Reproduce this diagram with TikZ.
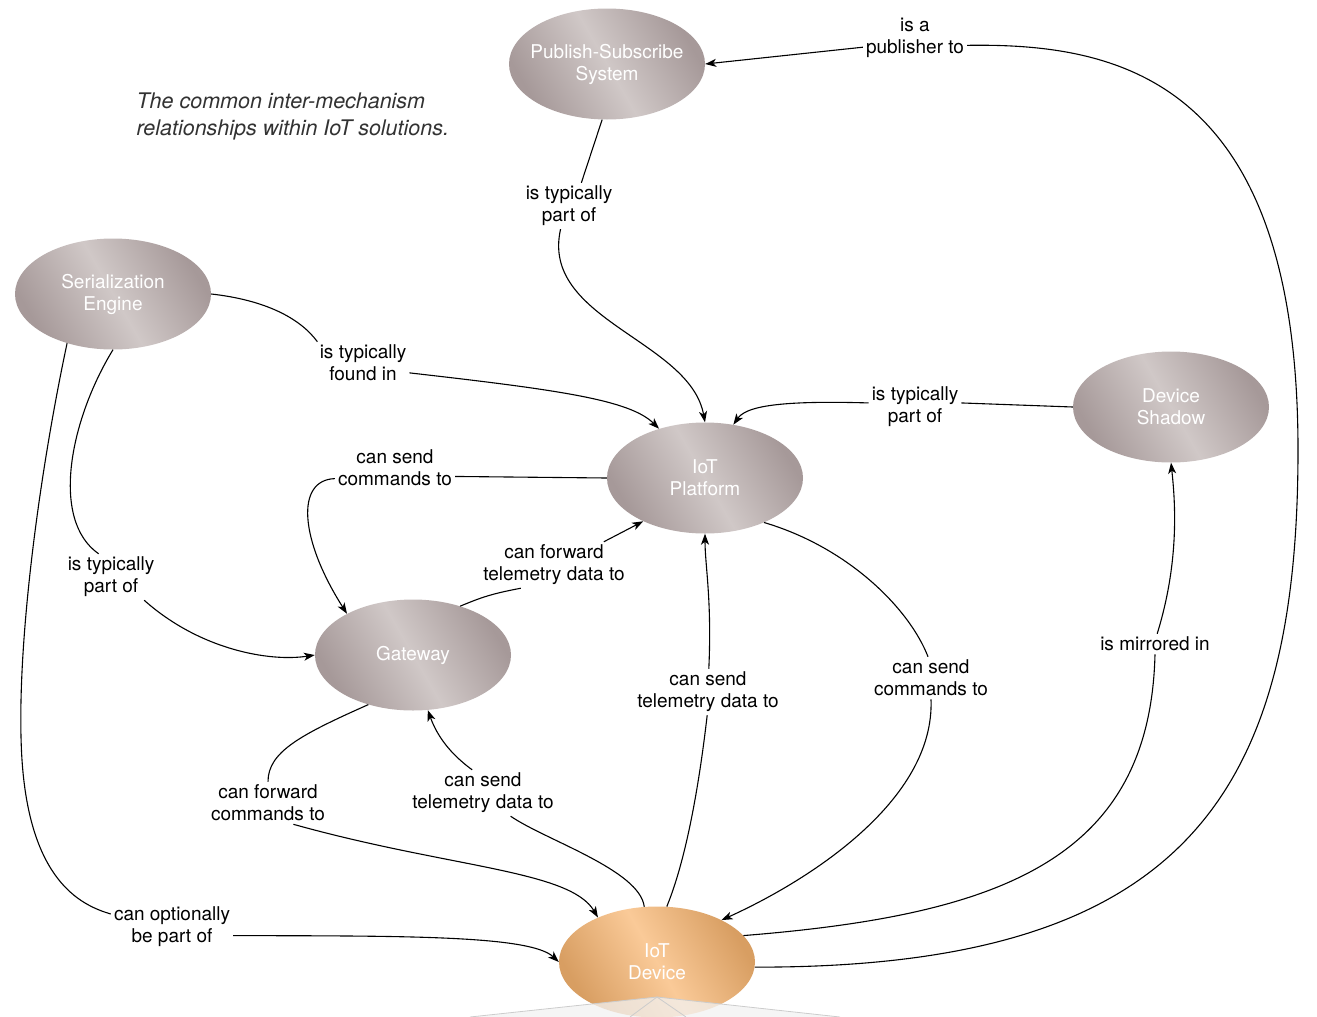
\documentclass[tikz,border=0pt]{standalone}
\usepackage{fontspec}
\setmainfont{TeX Gyre Heros}
\usetikzlibrary{shapes.geometric,arrows.meta}
\definecolor{mechgrey}{RGB}{166,153,153}
\definecolor{mechlight}{RGB}{208,200,199}
\definecolor{devorange}{RGB}{216,158,98}
\definecolor{devlight}{RGB}{250,202,152}
\definecolor{capgrey}{RGB}{50,50,50}
\tikzset{
	mech/.style={ellipse, minimum width=196pt, minimum height=111pt, inner xsep=-30pt, inner ysep=0pt, align=center,
		text=white, font=\fontsize{19}{22}\selectfont,
		left color=mechgrey, right color=mechgrey, middle color=mechlight, shading angle=120},
	devmech/.style={mech, left color=devorange, right color=devorange, middle color=devlight, shading angle=120},
	rel/.style={align=center, inner sep=3pt, font=\fontsize{19}{22}\selectfont},
	link/.style={line width=1.1pt},
	linkto/.style={line width=1.1pt, -{Stealth[length=11pt,width=8pt,inset=3pt]}}
}

\begin{document}
\begin{tikzpicture}[x=1pt, y=-1pt]
			%%%%% START %%%%%
			
			\useasboundingbox (0, 0) rectangle (1317, 1017);
			
			\node[mech] (pubsub) at (607, 64) {Publish-Subscribe\\System};
			\node[mech] (serial) at (113, 294) {Serialization\\Engine};
			\node[mech] (platform) at (705, 478) {IoT\\Platform};
			\node[mech] (shadow) at (1171, 407) {Device\\Shadow};
			\node[mech] (gateway) at (413, 655) {Gateway};
			\node[devmech] (device) at (657, 962) {IoT\\Device};
			
			\fill[gray!10, fill opacity=0.75] (657, 997) -- (840, 1017) -- (470, 1017) -- cycle;
			\draw[gray!40, line width=0.8pt] (470, 1017) -- (657, 997) -- (840, 1017);
			\draw[gray!40, line width=0.8pt] (630, 1017) -- (657, 997) -- (686, 1017);
			
			\node[align=left, font=\fontsize{21.5}{27}\selectfont\itshape, text=capgrey, anchor=north west] (caption) at (133, 89) {The common inter-mechanism\\relationships within IoT solutions.};
			
			\node[rel] (publ) at (915, 38) {is a\\publisher to};
			\node[rel] (pspart) at (569, 206) {is typically\\part of};
			\node[rel] (found) at (363, 363) {is typically\\found in};
			\node[rel] (shpart) at (915, 407) {is typically\\part of};
			\node[rel] (pfcmd) at (395, 468) {can send\\commands to};
			\node[rel] (gwtel) at (554, 565) {can forward\\telemetry data to};
			\node[rel] (gwpart) at (111, 577) {is typically\\part of};
			\node[rel] (optpart) at (172, 927) {can optionally\\be part of};
			\node[rel] (gwcmd) at (268, 803) {can forward\\commands to};
			\node[rel] (dvtelgw) at (483, 793) {can send\\telemetry data to};
			\node[rel] (dvtelpf) at (708, 692) {can send\\telemetry data to};
			\node[rel] (pfcmddv) at (931, 678) {can send\\commands to};
			\node[rel] (mirror) at (1155, 644) {is mirrored in};
			
			% device -> publish-subscribe
			\draw[link] (device.-3) .. controls (1180, 968) and (1298, 800) .. (1298, 450) .. controls (1298, 80) and (1120, 43) .. (publ.-8);
			\draw[linkto] (publ.190) -- (pubsub.east);
			
			% publish-subscribe -> platform
			\draw[link] (pubsub.-95) -- (pspart.62);
			\draw[linkto] (pspart.-110) .. controls (540, 320) and (690, 340) .. (platform.north);
			
			% serialization -> platform
			\draw[link] (serial.east) .. controls (265, 300) and (300, 318) .. (found.155);
			\draw[linkto] (found.-12) .. controls (560, 390) and (630, 400) .. (platform.133);
			
			% shadow -> platform
			\draw[link] (shadow.west) -- (shpart.5);
			\draw[linkto] (shpart.175) .. controls (770, 400) and (745, 408) .. (platform.62);
			
			% platform -> gateway
			\draw[link] (platform.west) -- (pfcmd.-8);
			\draw[linkto] (pfcmd.190) .. controls (295, 480) and (300, 540) .. (gateway.148);
			
			% gateway -> platform
			\draw[link] (gateway.46) .. controls (480, 598) and (490, 594) .. (gwtel.-145);
			\draw[linkto] (gwtel.25) -- (platform.-145);
			
			% serialization -> gateway
			\draw[link] (serial.-90) .. controls (70, 420) and (50, 520) .. (gwpart.118);
			\draw[linkto] (gwpart.-35) .. controls (200, 650) and (270, 662) .. (gateway.west);
			
			% serialization -> device
			\draw[link] (serial.-133) .. controls (40, 470) and (15, 650) .. (22, 760) .. controls (30, 880) and (80, 905) .. (optpart.168);
			\draw[linkto] (optpart.-8) .. controls (400, 936) and (530, 935) .. (device.west);
			
			% gateway -> device
			\draw[link] (gateway.-132) .. controls (300, 735) and (268, 752) .. (gwcmd.north);
			\draw[linkto] (gwcmd.-40) .. controls (450, 868) and (570, 870) .. (device.143);
			
			% device -> gateway
			\draw[link] (device.103) .. controls (640, 870) and (545, 840) .. (dvtelgw.-40);
			\draw[linkto] (dvtelgw.115) .. controls (445, 750) and (435, 730) .. (gateway.-75);
			
			% device -> platform
			\draw[link] (device.80) .. controls (690, 850) and (702, 760) .. (dvtelpf.-92);
			\draw[linkto] (dvtelpf.88) .. controls (712, 600) and (705, 565) .. (platform.south);
			
			% platform -> device
			\draw[link] (platform.-37) .. controls (850, 548) and (910, 610) .. (pfcmddv.98);
			\draw[linkto] (pfcmddv.-90) .. controls (935, 800) and (810, 880) .. (device.33);
			
			% device -> shadow
			\draw[link] (device.17) .. controls (1000, 915) and (1150, 860) .. (mirror.-90);
			\draw[linkto] (mirror.78) .. controls (1180, 560) and (1175, 500) .. (shadow.south);
			
			%%%%% END %%%%%
		\end{tikzpicture}
\end{document}
